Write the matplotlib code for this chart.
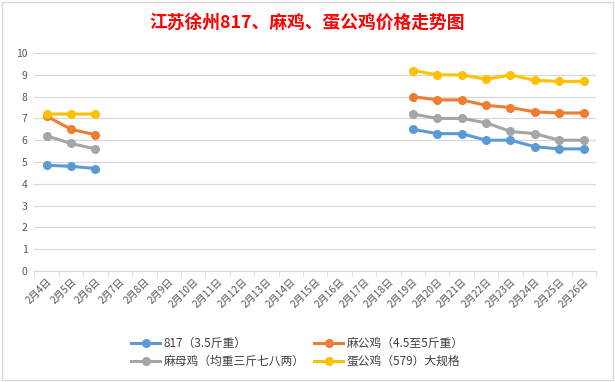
import numpy as np
import matplotlib
matplotlib.use("Agg")
import matplotlib.pyplot as plt

plt.rcParams["font.family"] = ["Noto Sans CJK SC", "DejaVu Sans"]

nan = np.nan
days = [f"2月{d}日" for d in range(4, 27)]
# 2月4日–6日, then gap, then 2月19日–26日
s817 = [4.85, 4.8, 4.7] + [nan] * 12 + [6.5, 6.3, 6.3, 6.0, 6.0, 5.7, 5.6, 5.6]
ma_gong = [7.1, 6.5, 6.25] + [nan] * 12 + [8.0, 7.85, 7.85, 7.6, 7.5, 7.3, 7.25, 7.25]
ma_mu = [6.2, 5.85, 5.6] + [nan] * 12 + [7.2, 7.0, 7.0, 6.8, 6.4, 6.3, 6.0, 6.0]
dan_gong = [7.2, 7.2, 7.2] + [nan] * 12 + [9.2, 9.0, 9.0, 8.8, 9.0, 8.75, 8.7, 8.7]

series = [
    ("817（3.5斤重）", s817, "#5B9BD5"),
    ("麻公鸡（4.5至5斤重）", ma_gong, "#ED7D31"),
    ("麻母鸡（均重三斤七八两）", ma_mu, "#A5A5A5"),
    ("蛋公鸡（579）大规格", dan_gong, "#FFC000"),
]

fig = plt.figure(figsize=(6.15, 3.82), dpi=100)
ax = fig.add_axes([0.056, 0.291, 0.913, 0.57])
x = np.arange(len(days))
lines = []
for name, vals, c in series:
    ln, = ax.plot(x, vals, color=c, lw=2.2, marker="o", ms=5.5, label=name)
    lines.append(ln)

ax.set_xlim(-0.5, len(days) - 0.5)
ax.set_ylim(0, 10)
ax.set_yticks(range(0, 11))
ax.grid(axis="y", color="#D9D9D9", lw=0.9)
ax.set_axisbelow(True)
for s in ["top", "right", "left"]:
    ax.spines[s].set_visible(False)
ax.spines["bottom"].set_color("#D9D9D9")
ax.tick_params(axis="y", length=0, labelsize=7.5, labelcolor="#595959", pad=5)
ax.set_xticks(np.arange(len(days) + 1) - 0.5, minor=True)
ax.set_xticks(x)
ax.set_xticklabels(days, rotation=45, ha="right", rotation_mode="anchor",
                   fontsize=7.3, color="#595959")
ax.tick_params(axis="x", which="major", length=0, pad=4)
ax.tick_params(axis="x", which="minor", length=4, color="#D9D9D9")

fig.suptitle("江苏徐州817、麻鸡、蛋公鸡价格走势图", color="#FF0000",
             fontsize=12.8, fontweight="bold", y=0.965)
# row-wise order like Excel: 817, 麻公鸡 / 麻母鸡, 蛋公鸡
order = [0, 2, 1, 3]
fig.legend([lines[i] for i in order], [series[i][0] for i in order],
           loc="center", bbox_to_anchor=(0.484, 0.077), ncol=2, frameon=False,
           fontsize=8.5, handlelength=2.4, handletextpad=0.35, columnspacing=0.8,
           labelspacing=0.4, labelcolor="#404040")
fig.patches.append(plt.Rectangle((0.004, 0.004), 0.992, 0.992, transform=fig.transFigure,
                                 fill=False, edgecolor="#D9D9D9", lw=1))
fig.savefig("out.png", dpi=100)
